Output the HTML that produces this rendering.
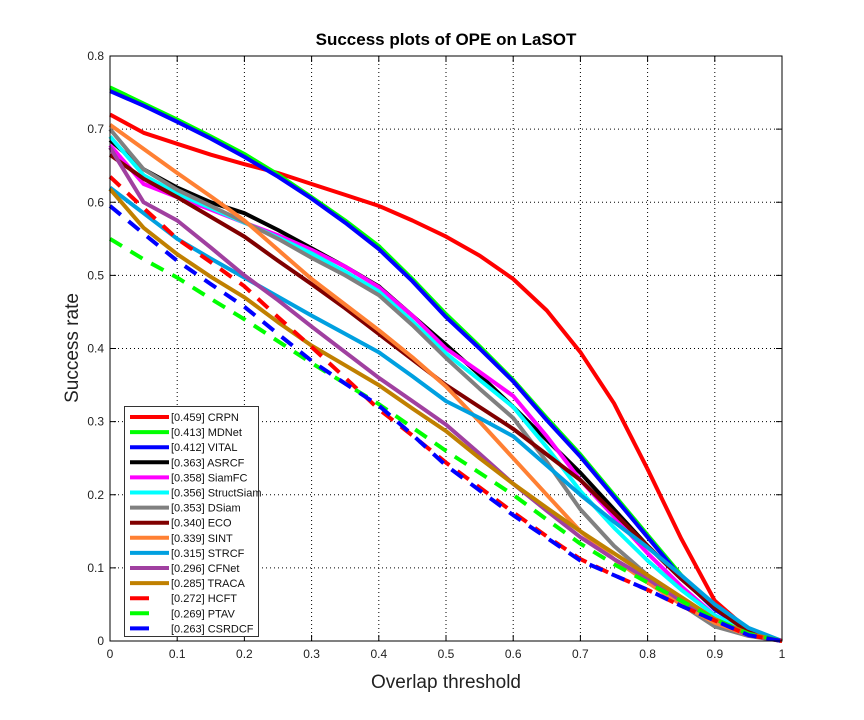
<!DOCTYPE html>
<html><head><meta charset="utf-8"><style>
body{margin:0;background:#fff;}
svg{display:block;font-family:"Liberation Sans",sans-serif;}
</style></head><body>
<svg id="c" width="864" height="720"></svg>
<script>
const xs=[0,0.05,0.1,0.15,0.2,0.25,0.3,0.35,0.4,0.45,0.5,0.55,0.6,0.65,0.7,0.75,0.8,0.85,0.9,0.95,1];
const names=["[0.459] CRPN","[0.413] MDNet","[0.412] VITAL","[0.363] ASRCF","[0.358] SiamFC","[0.356] StructSiam","[0.353] DSiam","[0.340] ECO","[0.339] SINT","[0.315] STRCF","[0.296] CFNet","[0.285] TRACA","[0.272] HCFT","[0.269] PTAV","[0.263] CSRDCF"];
const colors=["#ff0000","#00ff00","#0000ff","#000000","#ff00ff","#00ffff","#808080","#800000","#ff8033","#00a0e0","#a040a0","#c08000","#ff0000","#00ff00","#0000ff"];
const dashed=[0,0,0,0,0,0,0,0,0,0,0,0,1,1,1];
const crpn=[0.72,0.695,0.68,0.665,0.652,0.64,0.625,0.61,0.595,0.575,0.553,0.527,0.495,0.452,0.395,0.325,0.235,0.14,0.055,0.015,0];
const mdnet=[0.757,0.735,0.713,0.69,0.666,0.638,0.607,0.575,0.54,0.495,0.447,0.403,0.357,0.305,0.255,0.2,0.145,0.09,0.045,0.015,0];
const vital=[0.752,0.732,0.71,0.687,0.662,0.635,0.605,0.572,0.536,0.492,0.443,0.4,0.355,0.302,0.252,0.197,0.142,0.087,0.043,0.014,0];
const asrcf=[0.685,0.645,0.62,0.6,0.585,0.562,0.537,0.512,0.485,0.445,0.405,0.364,0.32,0.275,0.23,0.18,0.13,0.085,0.045,0.015,0];
const siamfc=[0.678,0.625,0.607,0.59,0.572,0.555,0.535,0.512,0.484,0.445,0.4,0.368,0.335,0.28,0.22,0.17,0.12,0.075,0.035,0.012,0];
const structsiam=[0.69,0.637,0.612,0.592,0.572,0.552,0.53,0.505,0.478,0.437,0.393,0.357,0.32,0.265,0.205,0.155,0.11,0.07,0.035,0.012,0];
const dsiam=[0.70,0.645,0.617,0.595,0.573,0.55,0.524,0.5,0.473,0.432,0.387,0.345,0.305,0.245,0.18,0.13,0.09,0.05,0.02,0.007,0];
const eco=[0.665,0.632,0.607,0.58,0.553,0.52,0.488,0.455,0.42,0.385,0.35,0.32,0.29,0.255,0.22,0.175,0.13,0.085,0.045,0.012,0];
const sint=[0.706,0.673,0.64,0.608,0.575,0.535,0.495,0.46,0.425,0.388,0.348,0.3,0.25,0.2,0.15,0.112,0.08,0.05,0.025,0.008,0];
const strcf=[0.62,0.585,0.55,0.523,0.497,0.471,0.445,0.42,0.395,0.362,0.328,0.305,0.28,0.24,0.2,0.163,0.128,0.09,0.05,0.018,0];
const cfnet=[0.675,0.6,0.575,0.538,0.5,0.466,0.43,0.395,0.36,0.328,0.296,0.256,0.215,0.178,0.142,0.112,0.085,0.055,0.03,0.008,0];
const traca=[0.618,0.565,0.529,0.498,0.47,0.436,0.404,0.377,0.35,0.318,0.287,0.25,0.215,0.182,0.15,0.12,0.09,0.06,0.03,0.01,0];
const hcft=[0.635,0.592,0.55,0.518,0.485,0.443,0.402,0.36,0.317,0.281,0.244,0.21,0.176,0.143,0.112,0.09,0.07,0.048,0.028,0.008,0];
const ptav=[0.55,0.522,0.497,0.468,0.44,0.41,0.38,0.352,0.324,0.292,0.26,0.23,0.2,0.166,0.133,0.105,0.08,0.055,0.03,0.01,0];
const csrdcf=[0.595,0.557,0.52,0.488,0.457,0.42,0.383,0.352,0.322,0.282,0.24,0.206,0.172,0.141,0.11,0.09,0.07,0.048,0.028,0.008,0];
const series=[crpn,mdnet,vital,asrcf,siamfc,structsiam,dsiam,eco,sint,strcf,cfnet,traca,hcft,ptav,csrdcf];
const xTicks=["0","0.1","0.2","0.3","0.4","0.5","0.6","0.7","0.8","0.9","1"];
const yTicks=["0","0.1","0.2","0.3","0.4","0.5","0.6","0.7","0.8"];

const L=110,R=782,T=56,B=641;
const X=v=>L+(R-L)*v, Y=v=>B-(B-T)*v/0.8;
const svg=document.getElementById('c');
const NS='http://www.w3.org/2000/svg';
function mk(tag,at,parent){const e=document.createElementNS(NS,tag);for(const k in at)e.setAttribute(k,at[k]);(parent||svg).appendChild(e);return e;}

const bg=mk('rect',{x:L,y:T,width:R-L,height:B-T,fill:'#fff'});


xTicks.forEach((t,i)=>{const v=i/10,x=X(v);
 if(i>0&&i<10){const g=mk('line',{x1:x,y1:T,x2:x,y2:B,stroke:'#000','stroke-width':1,'stroke-dasharray':'1,3'});
 }
 mk('line',{x1:x,y1:B,x2:x,y2:B-6,stroke:'#000'});mk('line',{x1:x,y1:T,x2:x,y2:T+6,stroke:'#000'});
 const tx=mk('text',{x:x,y:B+17,'font-size':12,'text-anchor':'middle',fill:'#222'});tx.textContent=t;
 });
yTicks.forEach((t,i)=>{const v=i/10,y=Y(v);
 if(i>0&&i<8){const g=mk('line',{x1:L,y1:y,x2:R,y2:y,stroke:'#000','stroke-width':1,'stroke-dasharray':'1,3'});
 }
 mk('line',{x1:L,y1:y,x2:L+6,y2:y,stroke:'#000'});mk('line',{x1:R,y1:y,x2:R-6,y2:y,stroke:'#000'});
 const tx=mk('text',{x:L-6,y:y+4,'font-size':12,'text-anchor':'end',fill:'#222'});tx.textContent=t;
 });

series.forEach((s,k)=>{const d=s.map((v,i)=>(i?'L':'M')+X(xs[i]).toFixed(1)+','+Y(v).toFixed(1)).join('');
 const p=mk('path',{d:d,fill:'none',stroke:colors[k],'stroke-width':4,'stroke-linejoin':'round'});
 if(dashed[k])p.setAttribute('stroke-dasharray','14,10');
 
 });

const fr=mk('rect',{x:L,y:T,width:R-L,height:B-T,fill:'none',stroke:'#000','stroke-width':1});


const lg=mk('g',{});

mk('rect',{x:124.5,y:406.5,width:134,height:230,fill:'#fff',stroke:'#333'},lg);
names.forEach((n,k)=>{const y=417+k*15.1;
 const ln=mk('line',{x1:130,y1:y,x2:dashed[k]?149:169,y2:y,stroke:colors[k],'stroke-width':4},lg);
 
 const t=mk('text',{x:171,y:y+4,'font-size':11,fill:'#111'},lg);t.textContent=n;
 });

const ti=mk('text',{x:446,y:45,'font-size':17,'font-weight':'bold','text-anchor':'middle',fill:'#000'});
ti.textContent='Success plots of OPE on LaSOT';
const xl=mk('text',{x:446,y:688,'font-size':19,'text-anchor':'middle',fill:'#222'});
xl.textContent='Overlap threshold';
const yl=mk('text',{x:0,y:0,'font-size':19,'text-anchor':'middle',fill:'#222',transform:'translate(78,348) rotate(-90)'});
yl.textContent='Success rate';
</script>
</body></html>
